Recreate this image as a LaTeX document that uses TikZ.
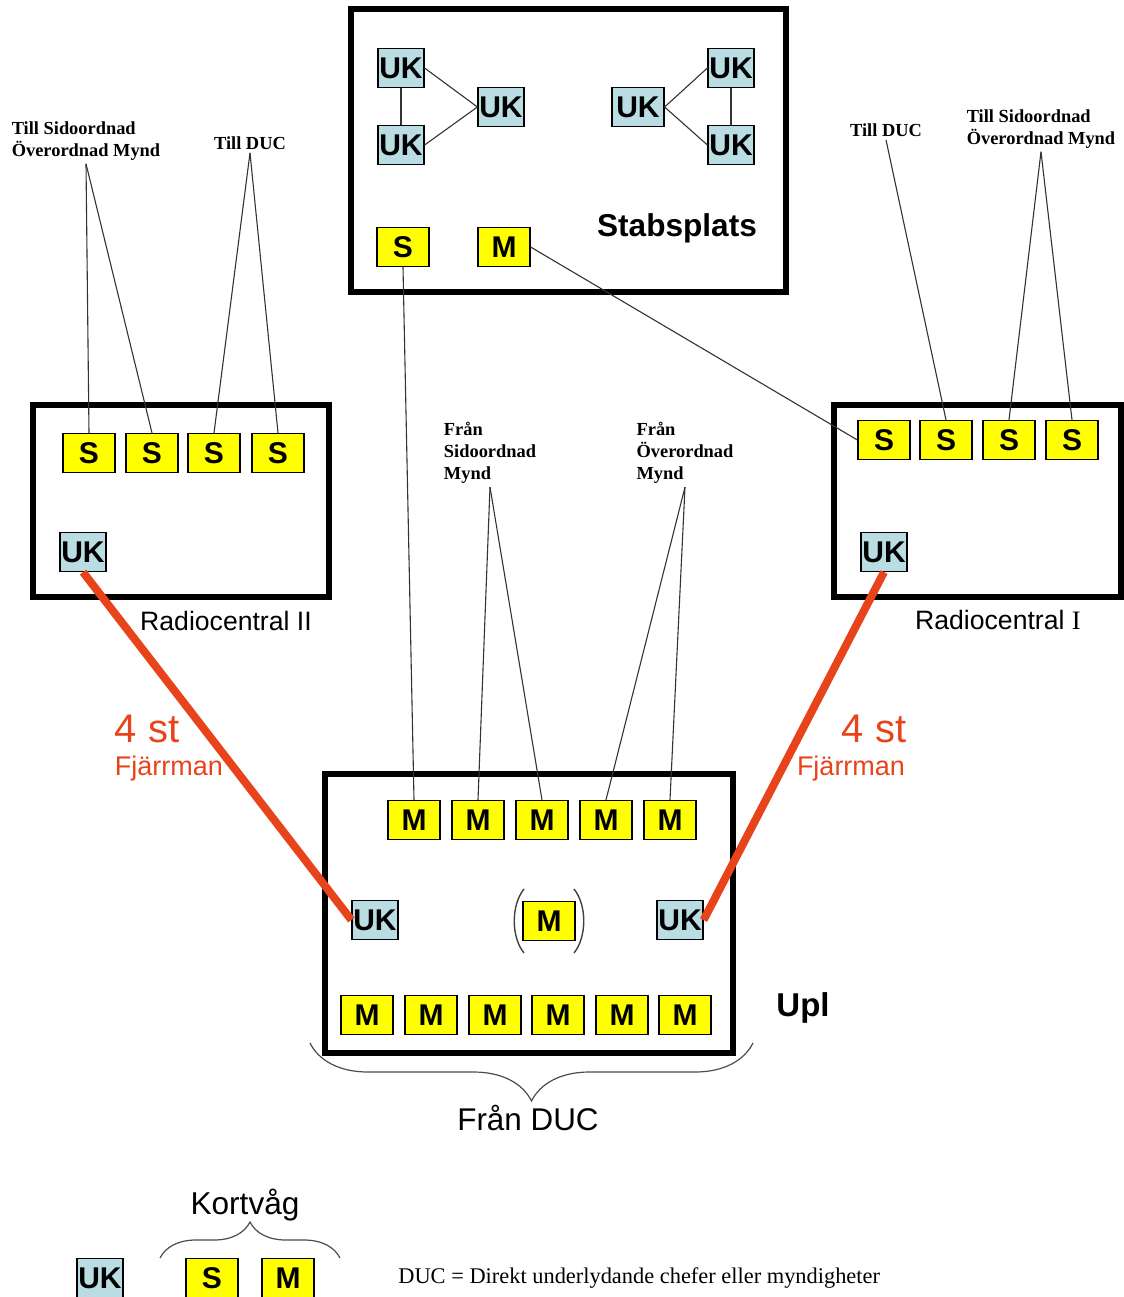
\documentclass[tikz,border=0pt]{standalone}
\usepackage{fontspec}
\setmainfont{Liberation Sans}
\newfontfamily\notefont{Liberation Serif}
\usetikzlibrary{positioning,decorations.pathreplacing}
\definecolor{boxyellow}{HTML}{FFFF00}
\definecolor{ukblue}{HTML}{B9DDE3}
\definecolor{linkred}{HTML}{E8441C}
\definecolor{wiregray}{HTML}{333333}

\begin{document}
\begin{tikzpicture}[
  x=0.5pt, y=-0.5pt,
  every node/.style={inner sep=0pt},
  mbox/.style={draw=black, line width=0.6pt, fill=boxyellow, minimum width=26pt, minimum height=19.5pt, font=\bfseries\fontsize{15}{15}\selectfont},
  ukbox/.style={mbox, fill=ukblue, minimum width=23pt},
  frame/.style={draw=black, line width=2.6pt},
  wire/.style={draw=wiregray, line width=0.55pt},
  link/.style={draw=linkred, line width=4pt},
  note/.style={font=\notefont\bfseries\fontsize{9.2}{11}\selectfont, align=left, inner sep=1.5pt},
  caption/.style={font=\fontsize{13.3}{15}\selectfont},
  redtxt/.style={text=linkred},
  brc/.style={decorate, draw=black!70, line width=0.6pt}
]
\useasboundingbox (0,0) rectangle (1124,1297);

% Stabsplats
\draw[frame] (351,9) rectangle (786,292);
\node[ukbox] (st-a) at (401,68) {UK};
\node[ukbox] (st-b) at (401,145) {UK};
\node[ukbox] (st-c) at (501,107) {UK};
\node[ukbox, minimum width=26pt] (st-d) at (638,107) {UK};
\node[ukbox] (st-e) at (731,68) {UK};
\node[ukbox] (st-f) at (731,145) {UK};
\draw[wire] (st-a) -- (st-b);
\draw[wire] (st-a.east) -- (st-c.west);
\draw[wire] (st-b.east) -- (st-c.west);
\draw[wire] (st-d.east) -- (st-e.west);
\draw[wire] (st-d.east) -- (st-f.west);
\draw[wire] (st-e) -- (st-f);
\node[mbox] (st-s) at (403,247) {S};
\node[mbox] (st-m) at (504,247) {M};
\node[font=\bfseries\fontsize{15.8}{18}\selectfont] (stab) at (677,228) {Stabsplats};

% Radiocentral II
\draw[frame] (33,405) rectangle (329,597);
\foreach \i/\x in {1/89,2/152,3/214,4/278}
  \node[mbox] (rcb-\i) at (\x,453) {S};
\node[ukbox] (rcb-uk) at (83,552) {UK};
\node[caption] (rcb-name) at (226,621) {Radiocentral II};

% Radiocentral I
\draw[frame] (834,405) rectangle (1121,597);
\foreach \i/\x in {1/884,2/946,3/1009,4/1072}
  \node[mbox] (rca-\i) at (\x,440) {S};
\node[ukbox] (rca-uk) at (884,552) {UK};
\node[caption] (rca-name) at (998,620) {Radiocentral {\notefont I}};

% Upl
\draw[frame, line width=3pt] (325,774) rectangle (733,1053);
\foreach \i/\x in {1/414,2/478,3/542,4/606,5/670}
  \node[mbox] (up-t\i) at (\x,820) {M};
\foreach \i/\x in {1/367,2/431,3/495,4/558,5/622,6/685}
  \node[mbox] (up-b\i) at (\x,1015) {M};
\node[ukbox] (up-ukl) at (375,920) {UK};
\node[ukbox] (up-ukr) at (680,920) {UK};
\node[mbox] (up-m) at (549,921) {M};
\draw[wire, draw=black!75, line width=0.7pt] (524,889) .. controls (511,905) and (511,937) .. (524,953);
\draw[wire, draw=black!75, line width=0.7pt] (574,889) .. controls (587,905) and (587,937) .. (574,953);
\node[font=\bfseries\fontsize{16.5}{18}\selectfont] (upl) at (803,1008) {Upl};

% small labels
\node[note] (till-l1) at (86,141) {Till Sidoordnad\\Överordnad Mynd};
\node[note] (till-l2) at (250,143) {Till DUC};
\node[note] (till-r1) at (886,130) {Till DUC};
\node[note] (till-r2) at (1041,129) {Till Sidoordnad\\Överordnad Mynd};
\node[note] (fran-1) at (490,453) {Från\\Sidoordnad\\Mynd};
\node[note] (fran-2) at (685,453) {Från\\Överordnad\\Mynd};

\draw[wire] (till-l1.south) -- (rcb-1.north);
\draw[wire] (till-l1.south) -- (rcb-2.north);
\draw[wire] (till-l2.south) -- (rcb-3.north);
\draw[wire] (till-l2.south) -- (rcb-4.north);
\draw[wire] (till-r1.south) -- (rca-2.north);
\draw[wire] (till-r2.south) -- (rca-3.north);
\draw[wire] (till-r2.south) -- (rca-4.north);
\draw[wire] (fran-1.south) -- (up-t2.north);
\draw[wire] (fran-1.south) -- (up-t3.north);
\draw[wire] (fran-2.south) -- (up-t4.north);
\draw[wire] (fran-2.south) -- (up-t5.north);
\draw[wire] (st-s.south) -- (up-t1.north);
\draw[wire] (st-m.east) -- (rca-1.west);

% Fjärrman links
\draw[link] (rcb-uk.south) -- (up-ukl.west);
\draw[link] (rca-uk.south) -- (up-ukr.east);
\node[redtxt, font=\fontsize{20}{22}\selectfont] (cnt-l) at (147,729) {4 st};
\node[redtxt, font=\fontsize{13.5}{15}\selectfont] (fj-l) at (169,769) {Fjärrman};
\node[redtxt, font=\fontsize{20}{22}\selectfont] (cnt-r) at (874,729) {4 st};
\node[redtxt, font=\fontsize{13.5}{15}\selectfont] (fj-r) at (851,769) {Fjärrman};

% Från DUC
\coordinate (duc-a) at (310,1043);
\coordinate (duc-b) at (753,1043);
\draw[brc, decoration={brace, mirror, amplitude=29pt}] (duc-a) -- (duc-b);
\node[font=\fontsize{15.7}{18}\selectfont] (duc) at (528,1118) {Från DUC};

% legend
\node[ukbox] (lg-uk) at (100,1278) {UK};
\node[mbox] (lg-s) at (212,1278) {S};
\node[mbox] (lg-m) at (288,1278) {M};
\coordinate (kv-a) at (160,1258);
\coordinate (kv-b) at (340,1258);
\draw[brc, decoration={brace, amplitude=18pt}] (kv-a) -- (kv-b);
\node[font=\fontsize{15.8}{18}\selectfont] (kv) at (245,1205) {Kortvåg};
\node[anchor=west, font=\notefont\fontsize{11.2}{13}\selectfont] (duc-def) at (398,1278) {DUC = Direkt underlydande chefer eller myndigheter};
\end{tikzpicture}
\end{document}
